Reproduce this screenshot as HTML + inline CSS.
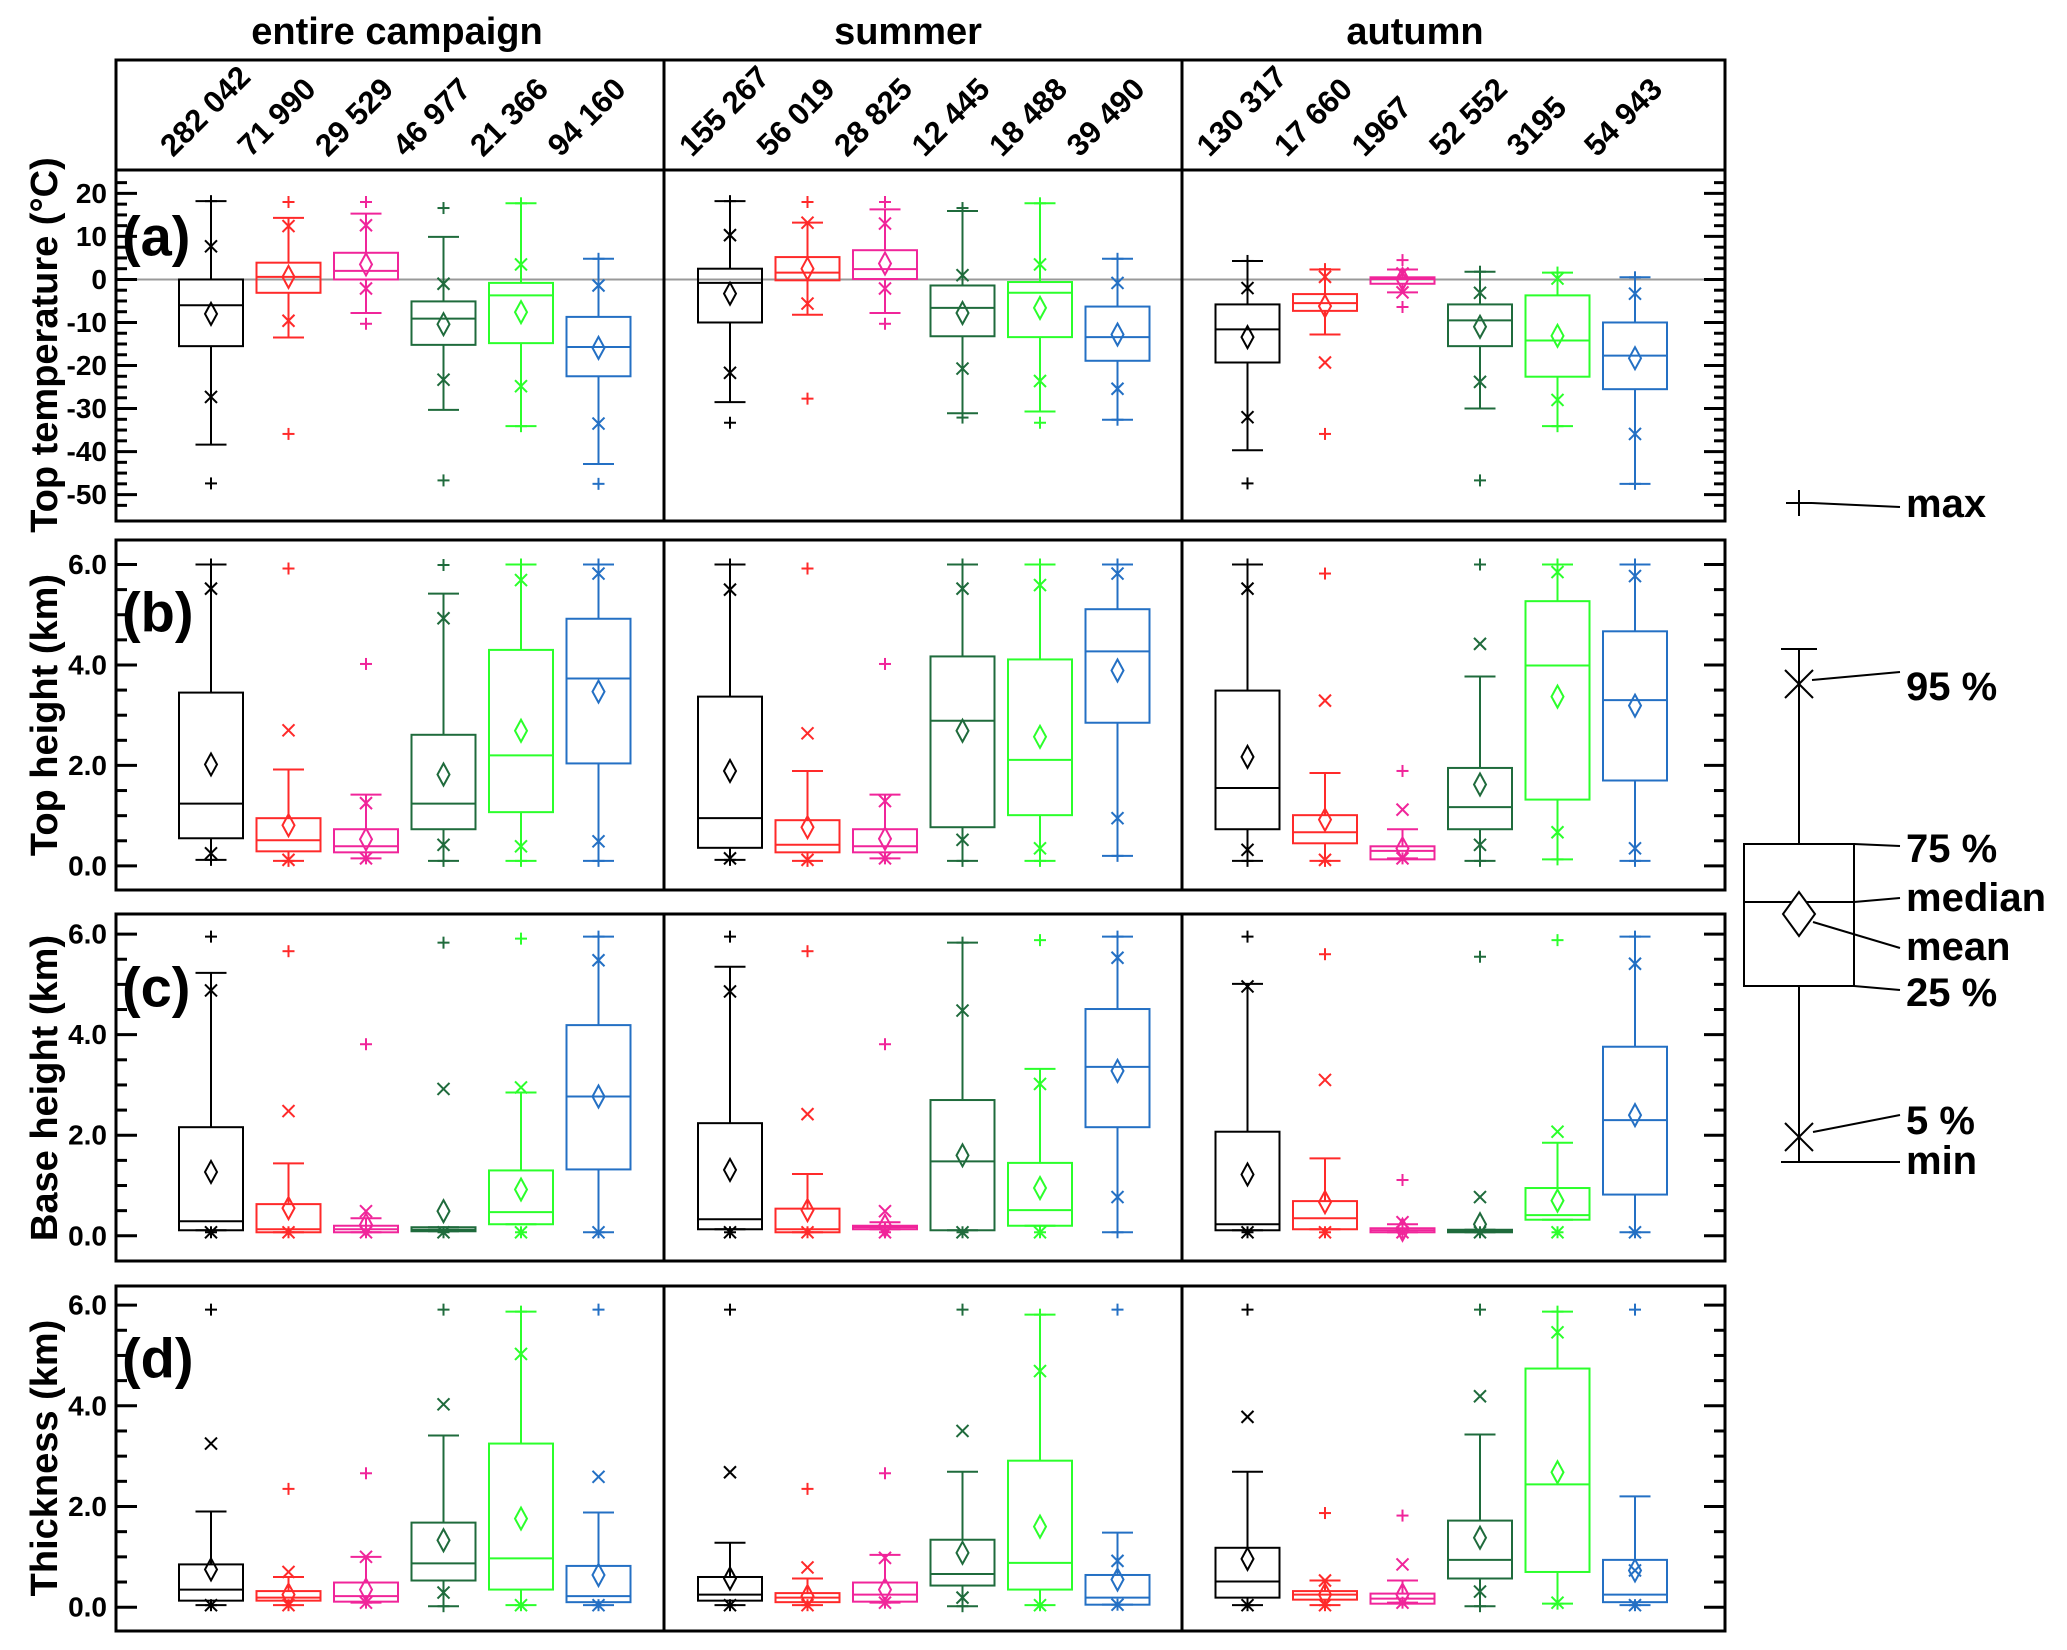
<!DOCTYPE html>
<html><head><meta charset="utf-8"><style>
html,body{margin:0;padding:0;background:#fff;}
svg{display:block;font-family:"Liberation Sans",Arial,sans-serif;}
</style></head><body>
<svg id="chart" width="2067" height="1650" viewBox="0 0 2067 1650" xmlns="http://www.w3.org/2000/svg">
<g id="static">
<text x="397" y="44" font-size="38" font-weight="bold" text-anchor="middle">entire campaign</text>
<text x="908" y="44" font-size="38" font-weight="bold" text-anchor="middle">summer</text>
<text x="1415" y="44" font-size="38" font-weight="bold" text-anchor="middle">autumn</text>
<text transform="translate(45,345) rotate(-90)" font-size="38" font-weight="bold" text-anchor="middle" dominant-baseline="central">Top temperature (°C)</text>
<text transform="translate(45,715) rotate(-90)" font-size="38" font-weight="bold" text-anchor="middle" dominant-baseline="central">Top height (km)</text>
<text transform="translate(45,1088) rotate(-90)" font-size="38" font-weight="bold" text-anchor="middle" dominant-baseline="central">Base height (km)</text>
<text transform="translate(45,1458) rotate(-90)" font-size="38" font-weight="bold" text-anchor="middle" dominant-baseline="central">Thickness (km)</text>
</g>
<g id="legend" stroke="#000" stroke-width="2" fill="none">
<line x1="1799" y1="649" x2="1799" y2="1162"/>
<line x1="1781" y1="649" x2="1817" y2="649"/>
<line x1="1786" y1="503" x2="1812" y2="503"/><line x1="1799" y1="490" x2="1799" y2="516"/>
<line x1="1785" y1="670" x2="1813" y2="698"/><line x1="1813" y1="670" x2="1785" y2="698"/>
<rect x="1744" y="844" width="110" height="142" fill="#fff"/>
<line x1="1744" y1="902" x2="1854" y2="902"/>
<polygon points="1799,892 1815,914 1799,936 1783,914" fill="#fff"/>
<line x1="1785" y1="1123" x2="1813" y2="1151"/><line x1="1813" y1="1123" x2="1785" y2="1151"/>
<line x1="1781" y1="1162" x2="1817" y2="1162"/><line x1="1799" y1="1150" x2="1799" y2="1162"/>
<line x1="1812" y1="503" x2="1900" y2="507"/>
<line x1="1812" y1="680" x2="1900" y2="672"/>
<line x1="1854" y1="844" x2="1900" y2="846"/>
<line x1="1854" y1="902" x2="1900" y2="898"/>
<line x1="1813" y1="922" x2="1900" y2="948"/>
<line x1="1854" y1="986" x2="1900" y2="990"/>
<line x1="1813" y1="1132" x2="1900" y2="1115"/>
<line x1="1817" y1="1162" x2="1900" y2="1162"/>
</g>
<g font-size="40" font-weight="bold" fill="#000">
<text x="1906" y="517">max</text>
<text x="1906" y="700">95 %</text>
<text x="1906" y="862">75 %</text>
<text x="1906" y="911">median</text>
<text x="1906" y="960">mean</text>
<text x="1906" y="1006">25 %</text>
<text x="1906" y="1134">5 %</text>
<text x="1906" y="1174">min</text>
</g>
</svg>
<script>
// order of each group: [max, upperWhisker, p95, q75, median, mean, q25, p5, lowerWhisker, min]
const colors = ["#000000","#ff2a2a","#f0259a","#1f6b3c","#2bff2b","#2470c4"];
const groupNames = ["black","red","magenta","darkgreen","green","blue"];
const countsEntire = ["282 042","71 990","29 529","46 977","21 366","94 160"];
const countsSummer = ["155 267","56 019","28 825","12 445","18 488","39 490"];
const countsAutumn = ["130 317","17 660","1967","52 552","3195","54 943"];
const tempTicks = [20,10,0,-10,-20,-30,-40,-50];
const tempTickLabels = ["20","10","0","-10","-20","-30","-40","-50"];
const kmTicks = [0,2,4,6];
const kmTickLabels = ["0.0","2.0","4.0","6.0"];

const tempEntire = [
[18.2,18.2,7.7,0,-6.0,-8.0,-15.5,-27.3,-38.4,-47.4],
[18.0,14.3,12.4,3.9,0.6,0.6,-3.1,-9.6,-13.5,-35.9],
[18.0,15.3,12.6,6.2,2.0,3.5,0,-2.1,-7.8,-10.3],
[16.6,9.9,-1.0,-5.1,-9.1,-10.4,-15.2,-23.3,-30.3,-46.7],
[17.7,17.7,3.5,-0.8,-3.7,-7.6,-14.8,-24.8,-34.1,-34.1],
[4.8,4.8,-1.4,-8.7,-15.7,-15.9,-22.5,-33.5,-42.9,-47.5]];
const tempSummer = [
[18.2,18.2,10.3,2.5,-0.8,-3.3,-10.0,-21.7,-28.5,-33.3],
[18.0,13.2,13.2,5.2,1.6,2.5,-0.2,-5.6,-8.2,-27.7],
[18.0,16.3,13.0,6.8,2.4,3.7,0.1,-2.1,-7.8,-10.3],
[16.6,15.9,1.0,-1.4,-6.6,-7.8,-13.2,-20.7,-31.1,-32.1],
[17.7,17.7,3.5,-0.6,-3.1,-6.6,-13.4,-23.6,-30.7,-33.3],
[4.8,4.8,-0.8,-6.3,-13.4,-12.8,-18.9,-25.4,-32.6,-32.6]];
const tempAutumn = [
[4.3,4.3,-2.0,-5.8,-11.6,-13.4,-19.3,-32.0,-39.7,-47.4],
[2.4,2.3,0.6,-3.4,-5.5,-6.2,-7.3,-19.3,-12.8,-35.9],
[4.5,2.3,1.4,0.5,0.1,0.1,-1.0,-3.0,-3.0,-6.4],
[1.8,1.8,-3.1,-5.8,-9.5,-11.0,-15.5,-23.8,-30.0,-46.7],
[1.6,1.6,0.2,-3.7,-14.2,-13.1,-22.6,-28.0,-34.1,-34.1],
[0.5,0.5,-3.3,-10.0,-17.7,-18.3,-25.5,-35.9,-47.5,-47.5]];

const topEntire = [
[6.0,6.0,5.52,3.45,1.24,2.02,0.55,0.25,0.12,0.12],
[5.92,1.92,2.7,0.95,0.51,0.81,0.29,0.12,0.1,0.1],
[4.02,1.42,1.25,0.73,0.39,0.53,0.27,0.15,0.15,0.15],
[5.99,5.42,4.93,2.61,1.24,1.82,0.73,0.42,0.1,0.1],
[6.0,6.0,5.69,4.3,2.2,2.69,1.07,0.39,0.1,0.1],
[6.0,6.0,5.82,4.92,3.73,3.47,2.04,0.49,0.1,0.1]];
const topSummer = [
[6.0,6.0,5.5,3.37,0.95,1.89,0.36,0.15,0.12,0.12],
[5.92,1.89,2.64,0.91,0.42,0.77,0.27,0.12,0.1,0.1],
[4.02,1.42,1.29,0.73,0.39,0.54,0.27,0.15,0.15,0.15],
[6.0,6.0,5.52,4.17,2.89,2.69,0.77,0.52,0.1,0.1],
[6.0,6.0,5.59,4.11,2.11,2.57,1.01,0.35,0.1,0.1],
[6.0,6.0,5.82,5.11,4.27,3.89,2.85,0.95,0.2,0.2]];
const topAutumn = [
[6.0,6.0,5.52,3.49,1.55,2.17,0.73,0.32,0.1,0.1],
[5.82,1.85,3.29,1.01,0.67,0.92,0.45,0.12,0.1,0.1],
[1.89,0.73,1.12,0.39,0.3,0.35,0.13,0.15,0.15,0.15],
[6.0,3.77,4.42,1.95,1.17,1.62,0.73,0.42,0.1,0.1],
[6.0,6.0,5.85,5.27,3.99,3.37,1.32,0.67,0.13,0.13],
[6.0,6.0,5.77,4.67,3.3,3.19,1.7,0.35,0.1,0.1]];

const baseEntire = [
[5.95,5.23,4.88,2.16,0.29,1.27,0.11,0.07,0.11,0.07],
[5.66,1.44,2.48,0.63,0.13,0.55,0.07,0.07,0.07,0.07],
[3.81,0.35,0.49,0.2,0.13,0.22,0.07,0.07,0.07,0.07],
[5.83,0.17,2.92,0.17,0.12,0.49,0.09,0.07,0.09,0.07],
[5.91,2.85,2.95,1.3,0.47,0.92,0.23,0.07,0.23,0.07],
[5.95,5.95,5.48,4.19,2.77,2.77,1.32,0.07,0.07,0.07]];
const baseSummer = [
[5.95,5.35,4.86,2.24,0.33,1.31,0.13,0.07,0.13,0.07],
[5.66,1.23,2.42,0.54,0.13,0.51,0.07,0.07,0.07,0.07],
[3.81,0.27,0.49,0.2,0.17,0.2,0.13,0.07,0.13,0.07],
[5.83,5.83,4.48,2.7,1.48,1.6,0.11,0.07,0.11,0.07],
[5.88,3.32,3.02,1.45,0.51,0.95,0.2,0.07,0.2,0.07],
[5.95,5.95,5.53,4.51,3.36,3.28,2.16,0.77,0.07,0.07]];
const baseAutumn = [
[5.95,5.01,4.96,2.07,0.23,1.22,0.11,0.07,0.11,0.07],
[5.6,1.54,3.1,0.69,0.35,0.67,0.13,0.07,0.13,0.07],
[1.11,0.23,0.27,0.15,0.11,0.12,0.07,0.07,0.07,0.07],
[5.55,0.12,0.77,0.12,0.1,0.23,0.07,0.07,0.07,0.07],
[5.88,1.85,2.07,0.95,0.41,0.7,0.32,0.07,0.32,0.07],
[5.95,5.95,5.41,3.76,2.3,2.4,0.82,0.07,0.07,0.07]];

const thickEntire = [
[5.91,1.9,3.25,0.85,0.35,0.75,0.13,0.04,0.04,0.04],
[2.35,0.6,0.7,0.32,0.19,0.25,0.13,0.04,0.04,0.04],
[2.66,1.0,1.0,0.49,0.22,0.35,0.11,0.09,0.09,0.09],
[5.91,3.41,4.03,1.68,0.87,1.33,0.53,0.29,0.02,0.02],
[5.87,5.87,5.03,3.25,0.97,1.76,0.35,0.04,0.04,0.04],
[5.91,1.88,2.59,0.82,0.22,0.64,0.1,0.04,0.04,0.04]];
const thickSummer = [
[5.91,1.28,2.68,0.6,0.25,0.57,0.13,0.04,0.04,0.04],
[2.35,0.57,0.79,0.28,0.19,0.22,0.1,0.04,0.04,0.04],
[2.66,1.04,0.98,0.49,0.25,0.35,0.11,0.09,0.09,0.09],
[5.91,2.69,3.5,1.34,0.66,1.08,0.43,0.19,0.02,0.02],
[5.81,5.81,4.69,2.91,0.88,1.6,0.35,0.04,0.04,0.04],
[5.91,1.48,0.92,0.64,0.19,0.55,0.05,0.05,0.05,0.05]];
const thickAutumn = [
[5.91,2.69,3.78,1.18,0.51,0.96,0.19,0.04,0.04,0.04],
[1.87,0.53,0.53,0.32,0.25,0.25,0.15,0.04,0.04,0.04],
[1.82,0.53,0.85,0.27,0.17,0.25,0.07,0.09,0.09,0.09],
[5.91,3.43,4.19,1.72,0.94,1.38,0.57,0.31,0.02,0.02],
[5.87,5.87,5.46,4.74,2.44,2.68,0.7,0.09,0.07,0.07],
[5.91,2.2,0.73,0.94,0.25,0.73,0.1,0.04,0.04,0.04]];

(function(){
const NS="http://www.w3.org/2000/svg";
const svg=document.getElementById('chart');
function mk(tag,attrs,parent){const e=document.createElementNS(NS,tag);for(const k in attrs)e.setAttribute(k,attrs[k]);(parent||svg).appendChild(e);return e;}
const firstCenter=[211,730,1247.5], spacing=77.5, boxW=64, capW=31;
const seasonNames=["entire","summer","autumn"];
const hdr=mk('g',{});


const countSets=[countsEntire,countsSummer,countsAutumn];
countSets.forEach((cs,c)=>{cs.forEach((t,i)=>{
  const x=firstCenter[c]+i*spacing-38, y=158;
  const tx=mk('text',{x:0,y:0,transform:`translate(${x},${y}) rotate(-45)`,'font-size':'31','font-weight':'bold'},hdr);
  
  
  tx.textContent=t;});});
const panels=[
 {id:'a',name:'top-temperature',sets:[tempEntire,tempSummer,tempAutumn],top:170,bot:521,v0:20,p0:193.4,v1:-50,p1:494.6,ticks:tempTicks,labels:tempTickLabels,minorFrom:-52.5,minorTo:22.5,minorStep:2.5,zero:true,labelY:236},
 {id:'b',name:'top-height',sets:[topEntire,topSummer,topAutumn],top:540,bot:890,v0:6,p0:564.5,v1:0,p1:865.9,ticks:kmTicks,labels:kmTickLabels,minorFrom:0,minorTo:6,minorStep:0.5,zero:false,labelY:612},
 {id:'c',name:'base-height',sets:[baseEntire,baseSummer,baseAutumn],top:914,bot:1261,v0:6,p0:934.1,v1:0,p1:1235.8,ticks:kmTicks,labels:kmTickLabels,minorFrom:0,minorTo:6,minorStep:0.5,zero:false,labelY:987},
 {id:'d',name:'thickness',sets:[thickEntire,thickSummer,thickAutumn],top:1286,bot:1631,v0:6,p0:1305.1,v1:0,p1:1607.2,ticks:kmTicks,labels:kmTickLabels,minorFrom:0,minorTo:6,minorStep:0.5,zero:false,labelY:1358}
];
panels.forEach(P=>{
  const g=mk('g',{});
  
  
  const y=v=>P.p0+(v-P.v0)*(P.p1-P.p0)/(P.v1-P.v0);
  if(P.zero){const zl=mk('line',{x1:116,x2:1725,y1:y(0),y2:y(0),stroke:'#999','stroke-width':2},g);
    
    }
  const ax=mk('g',{stroke:'#000','stroke-width':3},g);
  
  
  for(let v=P.minorFrom;v<=P.minorTo+1e-9;v+=P.minorStep){
    const major=P.ticks.some(t=>Math.abs(t-v)<1e-9);const L=major?21:11;
    mk('line',{x1:116,x2:116+L,y1:y(v),y2:y(v)},ax);
    mk('line',{x1:1725-L,x2:1725,y1:y(v),y2:y(v)},ax);}
  P.ticks.forEach((t,i)=>{const tx=mk('text',{x:107,y:y(t),'text-anchor':'end','dominant-baseline':'central','font-size':'28','font-weight':'bold',stroke:'none'},g);
    
    
    tx.textContent=P.labels[i];});
  const pl=mk('text',{x:122,y:P.labelY,'dominant-baseline':'central','font-size':'56','font-weight':'bold'},g);
  
  
  pl.textContent='('+P.id+')';
  P.sets.forEach((set,c)=>{set.forEach((d,i)=>{
    const col=colors[i], cx=firstCenter[c]+i*spacing;
    const bg=mk('g',{stroke:col,'stroke-width':2,fill:'none'},g);
    
    
    const [mx,wh,p95,q75,med,mean,q25,p5,wl,mn]=d;
    mk('line',{x1:cx,x2:cx,y1:y(wh),y2:y(Math.max(q75,wh<q75?wh:q75))},bg);
    mk('line',{x1:cx,x2:cx,y1:y(q25),y2:y(wl)},bg);
    mk('line',{x1:cx-capW/2,x2:cx+capW/2,y1:y(wh),y2:y(wh)},bg);
    mk('line',{x1:cx-capW/2,x2:cx+capW/2,y1:y(wl),y2:y(wl)},bg);
    mk('rect',{x:cx-boxW/2,y:y(q75),width:boxW,height:Math.max(1,y(q25)-y(q75))},bg);
    mk('line',{x1:cx-boxW/2,x2:cx+boxW/2,y1:y(med),y2:y(med)},bg);
    const ym=y(mean);
    mk('polygon',{points:`${cx},${ym-11} ${cx+6},${ym} ${cx},${ym+11} ${cx-6},${ym}`},bg);
    [p95,p5].forEach(v=>{const yy=y(v);
      mk('line',{x1:cx-6,x2:cx+6,y1:yy-6,y2:yy+6},bg);mk('line',{x1:cx+6,x2:cx-6,y1:yy-6,y2:yy+6},bg);});
    [mx,mn].forEach(v=>{const yy=y(v);
      mk('line',{x1:cx-6,x2:cx+6,y1:yy,y2:yy},bg);mk('line',{x1:cx,x2:cx,y1:yy-6,y2:yy+6},bg);});
  });});
  const fr=mk('g',{stroke:'#000','stroke-width':3,fill:'none'},g);
  
  
  mk('rect',{x:116,y:P.top,width:1609,height:P.bot-P.top},fr);
  mk('line',{x1:664,x2:664,y1:P.top,y2:P.bot},fr);
  mk('line',{x1:1182,x2:1182,y1:P.top,y2:P.bot},fr);
});
const hf=mk('g',{stroke:'#000','stroke-width':3,fill:'none'});


mk('rect',{x:116,y:60,width:1609,height:110},hf);
mk('line',{x1:664,x2:664,y1:60,y2:170},hf);
mk('line',{x1:1182,x2:1182,y1:60,y2:170},hf);
})();
</script>
</body></html>
